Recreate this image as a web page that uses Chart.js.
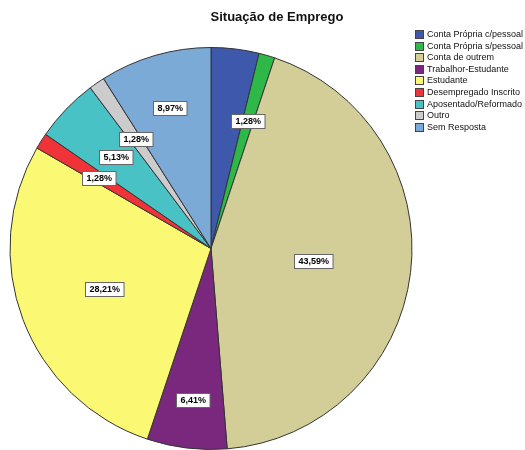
<!DOCTYPE html>
<html>
<head>
<meta charset="utf-8">
<script src="https://cdn.jsdelivr.net/npm/chart.js@4/dist/chart.umd.min.js"></script>
<style>
  html, body { margin: 0; padding: 0; background: #fff; }
  #c { display: block; }
</style>
</head>
<body>
<canvas id="c" width="525" height="450"></canvas>
<script>
// categories and counts (78 respondents)
const categories = [
  'Conta Própria c/pessoal',
  'Conta Própria s/pessoal',
  'Conta de outrem',
  'Trabalhor-Estudante',
  'Estudante',
  'Desempregado Inscrito',
  'Aposentado/Reformado',
  'Outro',
  'Sem Resposta'
];
const counts = [3, 1, 34, 5, 22, 1, 4, 1, 7];
const labelShown = [false, true, true, true, true, true, true, true, true];

const colors = ['#3E58AC', '#2EB848', '#D3CE97', '#79287E', '#FBF873',
                '#EF3338', '#48C2C5', '#CCCCCC', '#7BAAD7'];

// how far out each label sits, as a fraction of the radius
const labelRadius = [0.66, 0.66, 0.51, 0.76, 0.57, 0.66, 0.66, 0.66, 0.73];

const total = counts.reduce((a, b) => a + b, 0);
const pct = v => (v / total * 100).toFixed(2).replace('.', ',') + '%';

const FONT = '"Liberation Sans", Arial, sans-serif';

const decorations = {
  id: 'decorations',
  afterDraw(chart) {
    const ctx = chart.ctx;
    ctx.save();

    // title
    ctx.fillStyle = '#111';
    ctx.font = 'bold 13px ' + FONT;
    ctx.textAlign = 'center';
    ctx.textBaseline = 'middle';
    ctx.fillText('Situação de Emprego', 277, 17);

    // legend
    ctx.font = '9px ' + FONT;
    ctx.textAlign = 'left';
    categories.forEach((name, i) => {
      const y = 34 + i * 11.6;
      ctx.fillStyle = colors[i];
      ctx.fillRect(415, Math.round(y - 4), 8, 8);
      ctx.strokeStyle = '#444';
      ctx.lineWidth = 1;
      ctx.strokeRect(415.5, Math.round(y - 4) + 0.5, 8, 8);
      ctx.fillStyle = '#111';
      ctx.fillText(name, 427, y + 0.5);
    });

    // percentage labels
    ctx.font = 'bold 9px ' + FONT;
    ctx.textAlign = 'center';
    chart.getDatasetMeta(0).data.forEach((arc, i) => {
      if (!labelShown[i]) return;
      const mid = (arc.startAngle + arc.endAngle) / 2;
      const r = arc.outerRadius * labelRadius[i];
      const x = arc.x + Math.cos(mid) * r;
      const y = arc.y + Math.sin(mid) * r;
      const txt = pct(counts[i]);
      const w = ctx.measureText(txt).width + 8;
      const h = 14;
      const bx = Math.round(x - w / 2) + 0.5;
      const by = Math.round(y - h / 2) + 0.5;
      ctx.fillStyle = '#fff';
      ctx.fillRect(bx, by, w, h);
      ctx.strokeStyle = '#666';
      ctx.lineWidth = 1;
      ctx.strokeRect(bx, by, w, h);
      ctx.fillStyle = '#000';
      ctx.fillText(txt, bx + w / 2, by + h / 2 + 0.5);
    });

    ctx.restore();
  }
};

new Chart(document.getElementById('c'), {
  type: 'pie',
  data: {
    labels: categories,
    datasets: [{
      data: counts,
      backgroundColor: colors,
      borderColor: '#333',
      borderWidth: 1
    }]
  },
  options: {
    responsive: false,
    animation: false,
    layout: { padding: { left: 9, right: 112, top: 47, bottom: 0 } },
    plugins: {
      legend: { display: false },
      title: { display: false },
      tooltip: { enabled: false }
    }
  },
  plugins: [decorations]
});
</script>
</body>
</html>
